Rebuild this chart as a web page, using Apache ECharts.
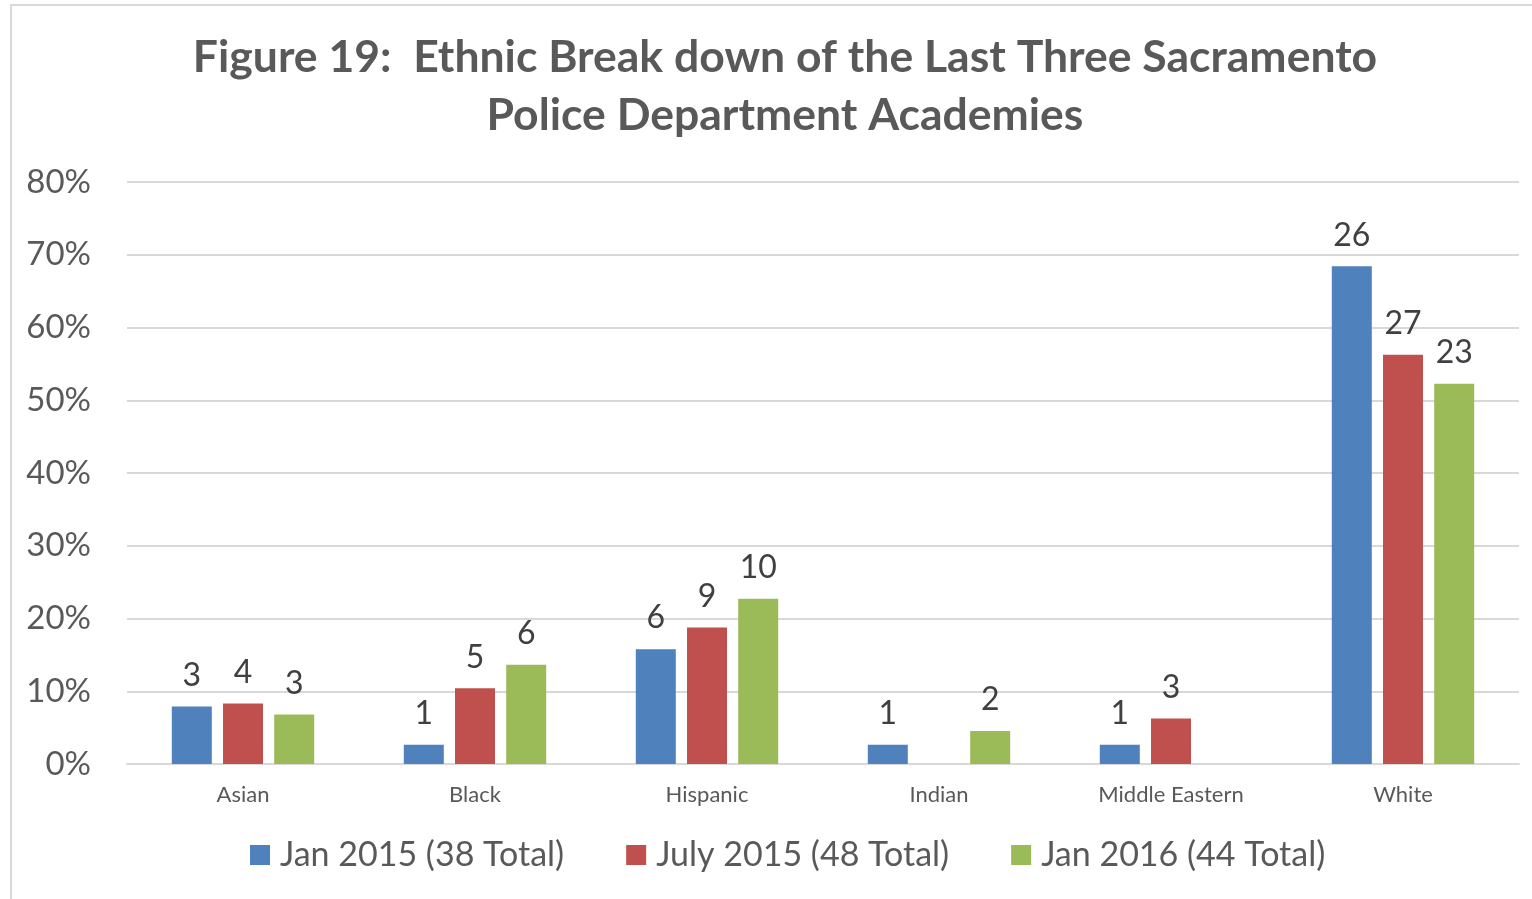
<!DOCTYPE html>
<html>
<head>
<meta charset="utf-8">
<script src="https://cdn.jsdelivr.net/npm/echarts@6/dist/echarts.min.js"></script>
<style>
html,body{margin:0;padding:0;background:#fff;}
#chart{width:1532px;height:899px;}
</style>
</head>
<body>
<div id="chart"></div>
<script>
const categories = ['Asian', 'Black', 'Hispanic', 'Indian', 'Middle Eastern', 'White'];
const seriesNames = ['Jan 2015 (38 Total)', 'July 2015 (48 Total)', 'Jan 2016 (44 Total)'];
const totals = [38, 48, 44];
const countsJan2015 = [3, 1, 6, 1, 1, 26];
const countsJul2015 = [4, 5, 9, 0, 3, 27];
const countsJan2016 = [3, 6, 10, 2, 0, 23];
const yTicks = [0, 0.1, 0.2, 0.3, 0.4, 0.5, 0.6, 0.7, 0.8];
const colors = ['#4F81BD', '#C0504D', '#9BBB59'];

const FONT = 'Lato';
const allCounts = [countsJan2015, countsJul2015, countsJan2016];

const chart = echarts.init(document.getElementById('chart'));
chart.setOption({
  animation: false,
  color: colors,
  textStyle: { fontFamily: FONT },
  title: {
    text: 'Figure 19:  Ethnic Break down of the Last Three Sacramento\nPolice Department Academies',
    left: 780,
    top: 24,
    textAlign: 'center',
    textStyle: { fontFamily: FONT, fontWeight: 'bold', fontSize: 44.5, color: '#595959', lineHeight: 58 }
  },
  graphic: [{
    type: 'rect',
    silent: true,
    shape: { x: 11, y: 5, width: 1700, height: 1000 },
    style: { fill: 'none', stroke: '#d9d9d9', lineWidth: 2 }
  }],
  legend: {
    bottom: 22,
    left: 245,
    itemWidth: 20,
    itemHeight: 20,
    itemGap: 62,
    icon: 'rect',
    textStyle: { fontFamily: FONT, fontSize: 34, color: '#595959', padding: [0, 0, 0, 5] },
    data: seriesNames
  },
  grid: { left: 127, right: 13, top: 182, bottom: 135, containLabel: false },
  xAxis: {
    type: 'category',
    data: categories,
    axisTick: { show: false },
    axisLine: { lineStyle: { color: '#d9d9d9', width: 2 } },
    axisLabel: { fontFamily: FONT, fontSize: 22, color: '#595959', margin: 20 }
  },
  yAxis: {
    type: 'value',
    min: 0,
    max: yTicks[yTicks.length - 1],
    interval: 0.1,
    axisLine: { show: false },
    axisTick: { show: false },
    splitLine: { lineStyle: { color: '#d9d9d9', width: 2 } },
    axisLabel: {
      fontFamily: FONT, fontSize: 33, color: '#595959', margin: 36,
      formatter: v => Math.round(v * 100) + '%'
    }
  },
  series: seriesNames.map((name, i) => ({
    name: name,
    type: 'bar',
    barWidth: 40,
    barGap: '28%',
    data: allCounts[i].map(c => c / totals[i]),
    label: {
      show: true,
      position: 'top',
      distance: 15,
      fontFamily: FONT,
      fontSize: 32,
      color: '#404040',
      formatter: p => allCounts[i][p.dataIndex] ? String(allCounts[i][p.dataIndex]) : ''
    }
  }))
});
</script>
</body>
</html>
